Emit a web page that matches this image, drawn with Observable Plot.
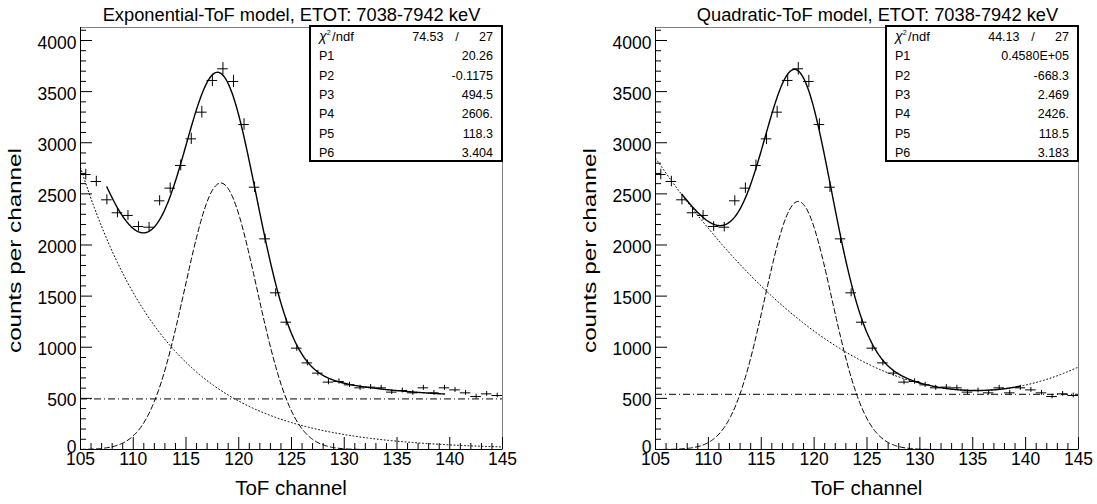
<!DOCTYPE html>
<html><head><meta charset="utf-8">
<script src="https://cdn.jsdelivr.net/npm/d3@7"></script>
<script src="https://cdn.jsdelivr.net/npm/@observablehq/plot@0.6"></script>
<style>
body{margin:0;background:#fff;}
#wrap{position:relative;width:1097px;height:504px;overflow:hidden;}
#wrap svg{position:absolute;top:0;}
</style></head><body><div id="wrap"></div>
<script>
// ---- data ----
const channels = [105.5,106.5,107.5,108.5,109.5,110.5,111.5,112.5,113.5,114.5,
  115.5,116.5,117.5,118.5,119.5,120.5,121.5,122.5,123.5,124.5,
  125.5,126.5,127.5,128.5,129.5,130.5,131.5,132.5,133.5,134.5,
  135.5,136.5,137.5,138.5,139.5,140.5,141.5,142.5,143.5,144.5];
const counts = [2689,2621,2442,2315,2289,2181,2174,2432,2556,2778,
  3038,3299,3609,3723,3599,3178,2565,2060,1532,1245,
  991,847,747,659,665,632,603,610,603,561,
  577,554,603,554,603,583,554,518,544,528];

const paramNames = ["P1","P2","P3","P4","P5","P6"];
const expValues = ["20.26","-0.1175","494.5","2606.","118.3","3.404"];
const quadValues = ["0.4580E+05","-668.3","2.469","2426.","118.5","3.183"];
const expChi2 = ["74.53","27"];
const quadChi2 = ["44.13","27"];
const quadLevel = 540;   // dash-dot reference level, right panel
const fitRange = [107.5, 139.5];

const xMajor = [105,110,115,120,125,130,135,140,145];
const yMajor = [0,500,1000,1500,2000,2500,3000,3500,4000];
const xMinor = d3.range(105, 145.5, 1).filter(v => v % 5 !== 0);
const yMinor = d3.range(0, 4127, 100).filter(v => v % 500 !== 0);

const titles = ["Exponential-ToF model, ETOT: 7038-7942 keV", "Quadratic-ToF model, ETOT: 7038-7942 keV"];
const xTitle = "ToF channel";
const yTitle = "counts per channel";

// ---- models from the printed fit parameters ----
const ep = expValues.map(Number), qp = quadValues.map(Number);
const gauss = (p, x) => p[3] * Math.exp(-0.5 * ((x - p[4]) / p[5]) ** 2);
const expModel = {
  bg: x => Math.exp(ep[0] + ep[1] * x),
  peak: x => gauss(ep, x),
  level: ep[2],
  total: x => Math.exp(ep[0] + ep[1] * x) + ep[2] + gauss(ep, x)
};
const quadModel = {
  bg: x => qp[0] + qp[1] * x + qp[2] * x * x,
  peak: x => gauss(qp, x),
  level: quadLevel,
  total: x => qp[0] + qp[1] * x + qp[2] * x * x + gauss(qp, x)
};

const data = channels.map((ch, i) => ({ch, c: counts[i]}));
const xs = d3.range(105, 145.0001, 0.1);
const fxs = d3.range(fitRange[0], fitRange[1] + 0.0001, 0.1);

const FONT = "'Liberation Sans', Arial, Helvetica, sans-serif";

function panel({left, mL, mR, model, title, titleX, values, chi2}) {
  const W = 548, H = 504, mT = 27, mB = 55;
  const fw = W - mL - mR, fh = H - mT - mB;
  const bgLine = xs.map(x => ({x, y: model.bg(x)}));
  const peakLine = xs.map(x => ({x, y: model.peak(x)}));
  const totLine = fxs.map(x => ({x, y: model.total(x)}));
  const svg = Plot.plot({
    width: W, height: H, marginLeft: mL, marginRight: mR, marginTop: mT, marginBottom: mB,
    x: {domain: [105, 145], axis: null},
    y: {domain: [0, 4127], axis: null},
    style: {fontFamily: FONT, fontSize: "17.5px", background: "white", color: "#000"},
    marks: [
      Plot.frame({stroke: "#808080"}),
      Plot.line(bgLine, {x: "x", y: "y", stroke: "#000", strokeWidth: 1, strokeDasharray: "1 2.5", clip: true}),
      Plot.line(peakLine, {x: "x", y: "y", stroke: "#000", strokeWidth: 1, strokeDasharray: "5 3", clip: true}),
      Plot.ruleY([model.level], {stroke: "#000", strokeWidth: 1, strokeDasharray: "7 3 1 3"}),
      Plot.line(totLine, {x: "x", y: "y", stroke: "#000", strokeWidth: 1.4, clip: true}),
      Plot.ruleY(data, {y: "c", x1: d => d.ch - 0.5, x2: d => d.ch + 0.5, stroke: "#000", strokeWidth: 1}),
      Plot.ruleX(data, {x: "ch", y1: d => d.c - Math.sqrt(d.c), y2: d => d.c + Math.sqrt(d.c), stroke: "#000", strokeWidth: 1}),
      Plot.ruleX(xMajor, {x: d => d, insetTop: fh - 12, stroke: "#000"}),
      Plot.ruleX(xMinor, {x: d => d, insetTop: fh - 6, stroke: "#000"}),
      Plot.ruleY(yMajor, {y: d => d, insetRight: fw - 12, stroke: "#000"}),
      Plot.ruleY(yMinor, {y: d => d, insetRight: fw - 6, stroke: "#000"}),
      Plot.ruleX([105], {stroke: "#000"}),
      Plot.ruleY([0], {stroke: "#000"}),
      Plot.axisX({ticks: xMajor, tickSize: 0, tickPadding: 3, tickFormat: d => String(d), label: null, fill: "#000"}),
      Plot.axisY({ticks: yMajor.filter(v => v > 0), tickSize: 0, tickPadding: 4, dy: 2.5, tickFormat: d => String(d), label: null, fill: "#000"}),
      Plot.axisY({ticks: [0], tickSize: 0, tickPadding: 4, dy: -2.5, tickFormat: d => String(d), label: null, fill: "#000"})
    ]
  });
  const s = d3.select(svg).style("left", left + "px");
  // title
  s.append("text").attr("x", titleX).attr("y", 20.5).attr("text-anchor", "middle")
    .attr("font-size", 18.3).attr("font-family", FONT).attr("fill", "#000").text(title);
  // axis titles
  s.append("text").attr("x", mL + fw / 2).attr("y", 495).attr("text-anchor", "middle")
    .attr("font-size", 20.5).attr("font-family", FONT).attr("fill", "#000").text(xTitle);
  s.append("text").attr("transform", `translate(${mL - 59},250.5) rotate(-90)`).attr("text-anchor", "middle")
    .attr("font-size", 18.5).attr("font-family", FONT).attr("fill", "#000")
    .attr("textLength", 205).attr("lengthAdjust", "spacingAndGlyphs").text(yTitle);
  // stats box
  const bx = W - mR - 192, by = 26;
  const g = s.append("g").attr("font-family", FONT).attr("font-size", 12.5).attr("fill", "#000")
    .attr("text-anchor", "start");
  g.append("rect").attr("x", bx).attr("y", by).attr("width", 192).attr("height", 135)
    .attr("fill", "white").attr("stroke", "#000").attr("stroke-width", 2);
  const row = i => 41 + 19.3 * i;
  const chiT = g.append("text").attr("x", bx + 9).attr("y", row(0)).attr("text-anchor", "start");
  chiT.append("tspan").attr("font-size", 14).attr("font-style", "italic").text("χ");
  chiT.append("tspan").attr("font-size", 7).attr("dy", -6).text("2");
  chiT.append("tspan").attr("dy", 6).attr("dx", 1.5).attr("font-size", 13).text("/ndf");
  g.append("text").attr("x", bx + 133.5).attr("y", row(0)).attr("text-anchor", "end").text(chi2[0]);
  g.append("text").attr("x", bx + 147).attr("y", row(0)).attr("text-anchor", "middle").text("/");
  g.append("text").attr("x", bx + 183).attr("y", row(0)).attr("text-anchor", "end").text(chi2[1]);
  paramNames.forEach((n, i) => {
    g.append("text").attr("x", bx + 9).attr("y", row(i + 1)).attr("text-anchor", "start").text(n);
    g.append("text").attr("x", bx + 183).attr("y", row(i + 1)).attr("text-anchor", "end").text(values[i]);
  });
  return svg;
}

const wrap = document.getElementById("wrap");
wrap.append(panel({left: 0, mL: 80, mR: 46, model: expModel, title: titles[0], titleX: 291.5, values: expValues, chi2: expChi2}));
wrap.append(panel({left: 548, mL: 107, mR: 18, model: quadModel, title: titles[1], titleX: 329.5, values: quadValues, chi2: quadChi2}));
</script></body></html>
